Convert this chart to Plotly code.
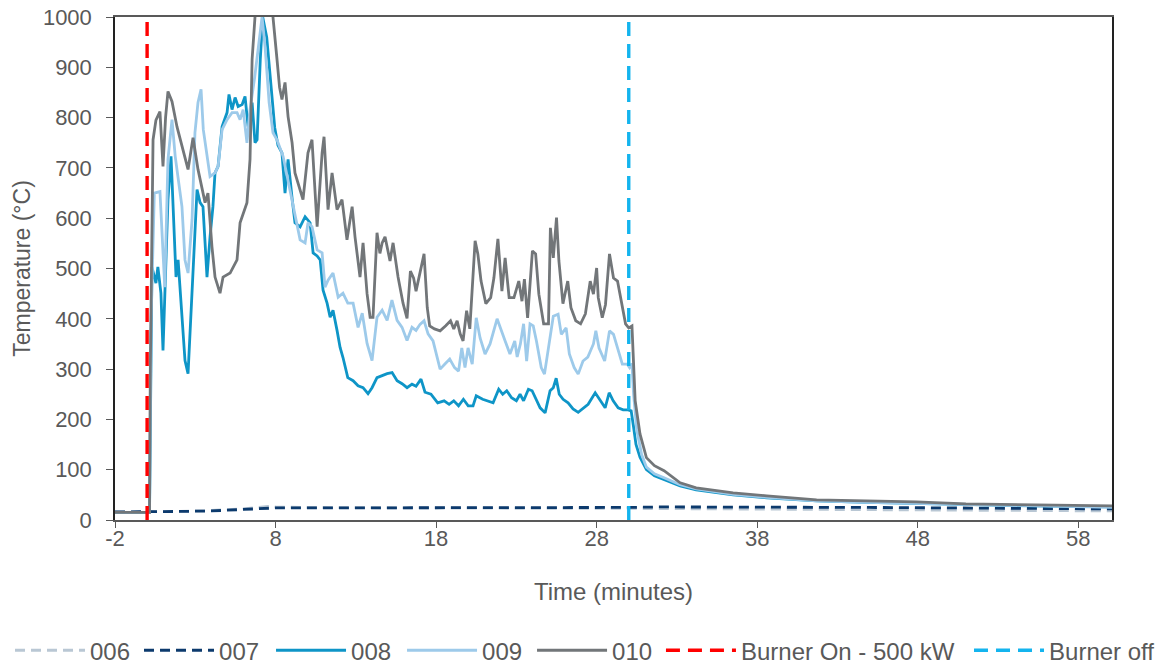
import plotly.graph_objects as go

# ---------------- data ----------------
t_006 = [-2, 0, 2, 4, 6, 7.5, 8, 10, 15, 20, 25, 30, 35, 40, 45, 50, 55, 60.1]
v_006 = [16, 16, 17, 19, 22, 27, 26, 25, 24, 23, 23, 23, 22, 21, 21, 20, 19, 18]

t_007 = [-2, 0, 2, 4, 6, 8, 10, 15, 20, 25, 30, 32, 35, 40, 45, 50, 55, 60.1]
v_007 = [16, 16, 17, 18, 21, 24, 24, 24, 24, 25, 25, 26, 26, 25, 25, 24, 23, 22]

t_008 = [-2, 0.15, 0.3, 0.55, 0.67, 0.86, 0.99, 1.17, 1.3, 1.49, 1.61, 1.8, 1.93, 2.17, 2.36, 2.55,
         2.8, 2.98, 3.11, 3.3, 3.48, 3.61, 3.73, 3.92, 4.1, 4.23, 4.42, 4.67, 4.98, 5.1, 5.29, 5.48,
         5.67, 5.92, 6.1, 6.29, 6.54, 6.72, 6.85, 7.05, 7.2, 7.45, 7.7, 7.95, 8.15, 8.4, 8.59, 8.78,
         9.03, 9.21, 9.53, 9.84, 10.15, 10.34, 10.59, 10.78, 10.96, 11.21, 11.4, 11.58, 11.83, 12.02,
         12.2, 12.5, 12.83, 13.14, 13.45, 13.76, 14.01, 14.32, 14.64, 14.95, 15.26, 15.57, 15.88,
         16.19, 16.5, 16.75, 17.06, 17.31, 17.68, 18.1, 18.5, 18.81, 19.1, 19.4, 19.7, 20.0, 20.3,
         20.5, 20.9, 21.25, 21.55, 21.9, 22.15, 22.4, 22.7, 23.0, 23.23, 23.45, 23.75, 23.98, 24.17,
         24.48, 24.79, 25.1, 25.3, 25.48, 25.67, 25.91, 26.22, 26.53, 26.85, 27.16, 27.47, 27.91,
         28.22, 28.53, 28.78, 29.03, 29.34, 29.65, 29.96, 30.15, 30.3, 30.45, 30.7, 31.1, 31.6, 32.2,
         33.2, 34.2, 36.5, 38.6, 41.7, 44.8, 47.9, 51.0, 55.1, 60.1]
v_008 = [15, 15, 503, 471, 503, 451, 337, 517, 637, 723, 631, 483, 517, 403, 317, 291,
         451, 583, 657, 631, 623, 551, 483, 563, 623, 690, 703, 782, 810, 846, 816, 840,
         822, 826, 842, 782, 830, 750, 756, 916, 1000, 960, 870, 780, 745, 730, 650, 717,
         640, 591, 583, 603, 591, 531, 525, 517, 457, 431, 403, 417, 377, 343,
         323, 283, 277, 267, 263, 251, 263, 283, 287, 291, 293, 277, 271,
         263, 270, 266, 280, 254, 250, 233, 237, 230, 237, 227, 240, 227, 227,
         247, 240, 237, 233, 260, 250, 257, 243, 237, 250, 237, 260, 257, 243,
         223, 213, 257, 263, 282, 250, 240, 233, 221, 214, 223, 230, 253,
         237, 223, 253, 237, 223, 219, 219, 217, 185, 150, 125, 100, 88, 80,
         68, 60, 50, 44, 38, 35, 33, 30, 28, 26]

t_009 = [-2, 0.15, 0.25, 0.45, 0.8, 0.99, 1.1, 1.3, 1.55, 1.75, 1.9, 2.17, 2.36, 2.55, 2.8, 2.98,
         3.17, 3.36, 3.5, 3.73, 3.92, 4.23, 4.42, 4.67, 4.98, 5.29, 5.6, 5.79, 5.98, 6.22, 6.41,
         6.7, 7.0, 7.16, 7.35, 7.6, 7.84, 8.09, 8.47, 8.9, 9.21, 9.53, 9.84, 10.02, 10.27, 10.59,
         10.9, 11.08, 11.27, 11.58, 11.9, 12.2, 12.5, 12.83, 13.14, 13.4, 13.7, 14.01, 14.32, 14.64,
         14.95, 15.25, 15.57, 15.88, 16.19, 16.5, 16.75, 17.0, 17.25, 17.5, 17.81, 18.1, 18.25,
         18.55, 18.85, 19.15, 19.4, 19.6, 19.8, 19.99, 20.25, 20.5, 20.74, 21.05, 21.36, 21.8,
         21.99, 22.3, 22.6, 22.9, 23.05, 23.25, 23.45, 23.64, 23.85, 24.05, 24.25, 24.55, 24.75,
         25.05, 25.3, 25.6, 25.8, 26.1, 26.3, 26.6, 26.85, 27.15, 27.45, 27.8, 27.95, 28.15, 28.5,
         28.8, 29.05, 29.3, 29.6, 29.9, 30.05, 30.2, 30.3, 30.5, 30.8, 31.1, 31.6, 32.2, 33.2, 34.2,
         36.5, 38.6, 41.7, 44.8, 47.9, 51.0, 55.1, 60.1]
v_009 = [15, 15, 400, 650, 653, 517, 463, 717, 796, 723, 690, 623, 517, 491, 597, 770,
         830, 856, 776, 723, 683, 690, 703, 776, 796, 810, 810, 796, 816, 750, 816,
         880, 960, 1000, 940, 830, 770, 756, 723, 657, 603, 557, 551, 591, 583, 537,
         531, 463, 477, 491, 443, 451, 431, 431, 383, 411, 351, 317, 403, 417,
         397, 437, 397, 383, 357, 383, 377, 389, 396, 370, 356, 316, 300,
         310, 320, 303, 296, 342, 303, 342, 310, 402, 362, 330, 350, 400,
         382, 356, 330, 356, 324, 350, 390, 316, 390, 386, 356, 303, 290,
         350, 405, 409, 369, 382, 330, 303, 290, 316, 324, 350, 376, 342, 316,
         376, 369, 342, 310, 310, 303, 311, 250, 180, 130, 105, 92, 84, 70, 62,
         51, 45, 38, 35, 33, 30, 28, 25]

t_010 = [-2, 0.15, 0.2, 0.37, 0.55, 0.8, 0.99, 1.15, 1.3, 1.55, 1.86, 2.17, 2.55, 2.86, 3.17,
         3.61, 3.79, 4.04, 4.23, 4.54, 4.73, 5.17, 5.6, 5.79, 6.22, 6.41, 6.54, 6.72, 7.0, 7.3,
         7.6, 7.84, 8.09, 8.25, 8.4, 8.59, 8.78, 9.03, 9.21, 9.53, 9.71, 10.02, 10.27, 10.59,
         10.9, 11.02, 11.27, 11.52, 11.83, 12.14, 12.45, 12.77, 12.95, 13.26, 13.45, 13.7, 13.89,
         14.07, 14.32, 14.5, 14.64, 14.82, 15.13, 15.32, 15.63, 15.94, 16.19, 16.4, 16.6, 16.75,
         17.0, 17.25, 17.45, 17.6, 17.9, 18.25, 18.6, 18.9, 19.1, 19.31, 19.5, 19.68, 19.9, 20.1,
         20.43, 20.6, 20.8, 21.1, 21.4, 21.6, 21.85, 22.1, 22.3, 22.55, 22.85, 23.15, 23.35, 23.5,
         23.7, 24.0, 24.2, 24.4, 24.7, 25.0, 25.12, 25.3, 25.5, 25.65, 25.9, 26.2, 26.4, 26.7,
         27.0, 27.3, 27.6, 27.8, 28.0, 28.1, 28.35, 28.55, 28.8, 29.05, 29.3, 29.5, 29.8, 30.0,
         30.2, 30.4, 30.7, 31.1, 31.6, 32.2, 33.2, 34.2, 36.5, 38.6, 41.7, 44.8, 47.9, 51.0,
         55.1, 60.1]
v_010 = [15, 15, 300, 756, 795, 812, 703, 800, 852, 832, 782, 743, 697, 760, 697,
         631, 650, 543, 483, 451, 483, 491, 517, 591, 631, 717, 916, 1000, 1060, 1090,
         1040, 1000, 916, 860, 836, 870, 802, 750, 690, 657, 637, 730, 756, 583,
         730, 762, 617, 690, 617, 637, 557, 623, 563, 483, 551, 450, 403,
         403, 571, 530, 551, 563, 515, 551, 483, 431, 401, 495, 481, 455,
         495, 529, 422, 386, 380, 376, 386, 396, 380, 396, 370, 356, 416, 380,
         555, 529, 475, 430, 442, 481, 559, 455, 521, 442, 442, 475, 435, 479,
         402, 535, 529, 449, 390, 390, 581, 521, 601, 515, 430, 475, 422, 396,
         390, 410, 475, 449, 501, 442, 402, 428, 529, 481, 475, 442, 390, 382,
         386, 237, 171, 124, 108, 98, 74, 64, 54, 48, 40, 38, 36, 32,
         30, 28]

burner_on_t = 0
burner_off_t = 30
y_span = [0, 1000]

x_ticks = [-2, 8, 18, 28, 38, 48, 58]
x_tick_text = ["-2", "8", "18", "28", "38", "48", "58"]
y_ticks = [0, 100, 200, 300, 400, 500, 600, 700, 800, 900, 1000]

# ---------------- figure ----------------
FONT = "Liberation Sans, Arial, sans-serif"
TXT = "#595959"

fig = go.Figure()

series = [
    ("006", t_006, v_006, "#B9C7D4", "10px,6px", 2.8),
    ("007", t_007, v_007, "#0C3A6D", "10px,6px", 2.8),
    ("008", t_008, v_008, "#0E95C7", "solid", 2.8),
    ("009", t_009, v_009, "#9DCAEA", "solid", 2.8),
    ("010", t_010, v_010, "#727679", "solid", 2.8),
]
traces = [(n, t, v, c, d, w) for n, t, v, c, d, w in series]
traces.append(("Burner On - 500 kW", [burner_on_t, burner_on_t], y_span, "#FF0000", "14px,8px", 3.4))
traces.append(("Burner off", [burner_off_t, burner_off_t], y_span, "#14B4EE", "14px,8px", 3.4))

# one legend box per entry so that the entries can be spaced like the original
legend_x = [-0.1053, 0.0241, 0.1565, 0.2879, 0.4183, 0.5476, 0.8566]

legend_layout = {}
for i, ((name, t, v, col, dash, w), lx) in enumerate(zip(traces, legend_x)):
    key = "legend" if i == 0 else f"legend{i + 1}"
    fig.add_trace(go.Scatter(x=t, y=v, mode="lines", name=name, legend=key,
                             line=dict(color=col, width=w, dash=dash)))
    legend_layout[key] = dict(orientation="h", xref="paper", yref="paper",
                              x=lx, xanchor="left", y=-0.215, yanchor="top",
                              font=dict(family=FONT, size=24, color=TXT),
                              itemwidth=70, bgcolor="rgba(0,0,0,0)")

fig.update_layout(
    width=1164, height=666,
    margin=dict(l=115, r=52, t=17, b=146, autoexpand=False),
    paper_bgcolor="white", plot_bgcolor="white",
    font=dict(family=FONT, size=22, color=TXT),
    showlegend=True,
    xaxis=dict(range=[-2, 60.1], tickvals=x_ticks, ticktext=x_tick_text,
               ticks="outside", ticklen=6, automargin=True, ticklabelstandoff=-8,
               tickcolor="#595959", showline=True, linecolor="#595959", linewidth=1.5,
               mirror=True, showgrid=False, zeroline=False,
               tickfont=dict(family=FONT, size=22, color=TXT),
               title=dict(text="Time (minutes)", standoff=33,
                          font=dict(family=FONT, size=24, color=TXT))),
    yaxis=dict(range=[0, 1000], tickvals=y_ticks, ticks="outside", ticklen=7,
               automargin=True, ticklabelstandoff=10,
               tickcolor="#595959", showline=True, linecolor="#222222", linewidth=1.5,
               mirror=True, showgrid=False, zeroline=False,
               tickfont=dict(family=FONT, size=22, color=TXT),
               title=dict(text="Temperature (°C)", standoff=6,
                          font=dict(family=FONT, size=23, color=TXT))),
    **legend_layout,
)

fig.write_html("out.html", config={"displayModeBar": False},
               post_script="document.body.style.margin='0px';")
